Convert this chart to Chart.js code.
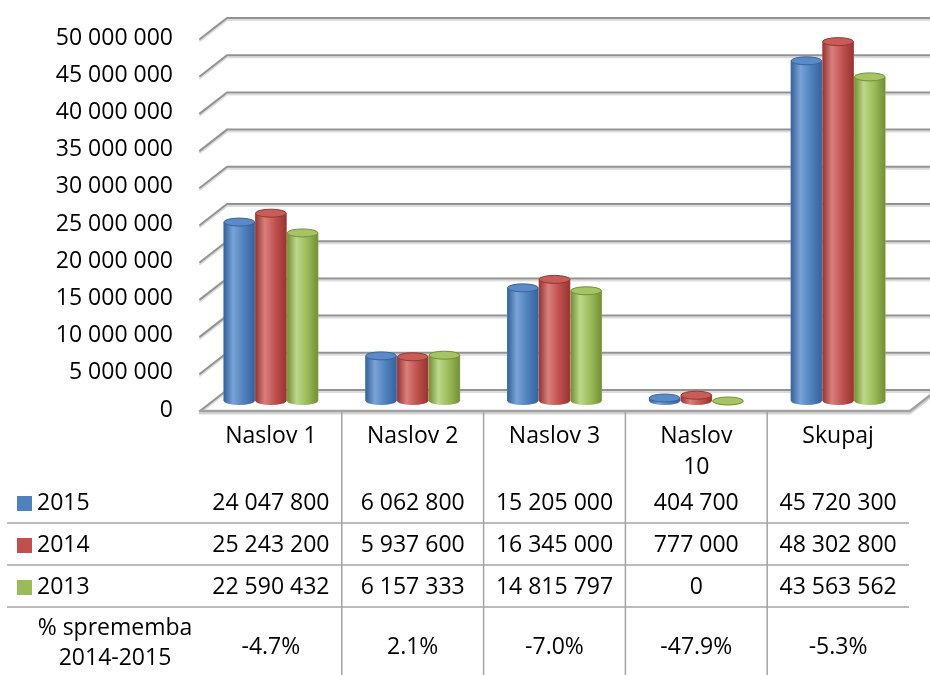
<!DOCTYPE html>
<html>
<head>
<meta charset="utf-8">
<script src="https://cdn.jsdelivr.net/npm/chart.js@4/dist/chart.umd.min.js"></script>
<style>
  html, body { margin: 0; padding: 0; background: #fff; }
  #wrap { width: 930px; height: 675px; }
</style>
</head>
<body>
<div id="wrap"><canvas id="chart" width="930" height="675"></canvas></div>
<script>
// chart data
const categories = ["Naslov 1", "Naslov 2", "Naslov 3", ["Naslov", "10"], "Skupaj"];
const years = ["2015", "2014", "2013"];
const values2015 = [24047800, 6062800, 15205000, 404700, 45720300];
const values2014 = [25243200, 5937600, 16345000, 777000, 48302800];
const values2013 = [22590432, 6157333, 14815797, 0, 43563562];
const changeLabel = ["% sprememba", "2014-2015"];
const yTicks = { min: 0, max: 50000000, step: 5000000 };

const colors = ["#4f81bd", "#c0504d", "#9bbb59"];
const shades = [
    { dark: "#36639b", light: "#7aa3d8", cap: "#5a8bc6" },
    { dark: "#963531", light: "#d8807d", cap: "#c85c59" },
    { dark: "#728f35", light: "#bcd88a", cap: "#a6c466" }
];
const FONT = '"Open Sans", "DejaVu Sans", sans-serif';

function fmt(n) {
    return String(n).replace(/\B(?=(\d{3})+(?!\d))/g, " ");
}

// back wall + floor, drawn from the y scale
const wall3d = {
    id: "wall3d",
    beforeDatasetsDraw(chart) {
        const { ctx, chartArea: a, scales: { y } } = chart;
        const dx = 27, front = 10, back = -11;
        ctx.save();
        ctx.lineCap = "round";
        y.ticks.forEach(t => {
            const py = y.getPixelForValue(t.value);
            ctx.strokeStyle = "#dcdcdc";
            ctx.lineWidth = 2;
            ctx.beginPath();
            ctx.moveTo(a.left, py + front + 2);
            ctx.lineTo(a.left + dx, py + back + 2);
            ctx.lineTo(chart.width + 5, py + back + 2);
            ctx.stroke();
            ctx.strokeStyle = "#929292";
            ctx.lineWidth = 2;
            ctx.beginPath();
            ctx.moveTo(a.left, py + front);
            ctx.lineTo(a.left + dx, py + back);
            ctx.lineTo(chart.width + 5, py + back);
            ctx.stroke();
        });
        // floor front edge
        const p0 = y.getPixelForValue(0);
        ctx.strokeStyle = "#d6d6d6";
        ctx.lineWidth = 3;
        ctx.beginPath();
        ctx.moveTo(a.left, p0 + front + 2);
        ctx.lineTo(a.right + 1, p0 + front + 2);
        ctx.lineTo(a.right + 1 + dx, p0 + back + 2);
        ctx.stroke();
        ctx.strokeStyle = "#a2a2a2";
        ctx.lineWidth = 2.5;
        ctx.beginPath();
        ctx.moveTo(a.left, p0 + front);
        ctx.lineTo(a.right + 1, p0 + front);
        ctx.lineTo(a.right + 1 + dx, p0 + back);
        ctx.stroke();
        ctx.restore();
    }
};

// turn each bar into a cylinder
const cylinders = {
    id: "cylinders",
    afterDatasetsDraw(chart) {
        const ctx = chart.ctx;
        ctx.save();
        chart.data.datasets.forEach((ds, di) => {
            const meta = chart.getDatasetMeta(di);
            const sh = shades[di];
            meta.data.forEach(bar => {
                const { x, y, base, width } = bar.getProps(["x", "y", "base", "width"], true);
                const rx = width / 2 - 0.5, ry = 4;
                const g = ctx.createLinearGradient(x - rx, 0, x + rx, 0);
                g.addColorStop(0, sh.dark);
                g.addColorStop(0.3, sh.light);
                g.addColorStop(0.65, colors[di]);
                g.addColorStop(1, sh.dark);
                ctx.fillStyle = g;
                ctx.beginPath();
                ctx.moveTo(x - rx, y);
                ctx.lineTo(x - rx, base);
                ctx.ellipse(x, base, rx, ry, 0, Math.PI, 0, true);
                ctx.lineTo(x + rx, y);
                ctx.closePath();
                ctx.fill();
                ctx.fillStyle = sh.cap;
                ctx.strokeStyle = sh.dark;
                ctx.lineWidth = 1;
                ctx.beginPath();
                ctx.ellipse(x, y, rx, ry, 0, 0, Math.PI * 2);
                ctx.fill();
                ctx.stroke();
            });
        });
        ctx.restore();
    }
};

// data table under the axis
const dataTable = {
    id: "dataTable",
    afterDraw(chart) {
        const { ctx, scales: { x } } = chart;
        const rows = [values2015, values2014, values2013];
        const rowY = [503, 545, 587];
        const n = categories.length;
        const half = (x.getPixelForValue(1) - x.getPixelForValue(0)) / 2;
        const right = x.getPixelForValue(n - 1) + half;
        ctx.save();
        ctx.strokeStyle = "#a4a4a4";
        ctx.lineWidth = 1.5;
        for (let i = 0; i < n - 1; i++) {
            const bx = x.getPixelForValue(i) + half;
            ctx.beginPath();
            ctx.moveTo(bx, 412);
            ctx.lineTo(bx, 675);
            ctx.stroke();
        }
        [523, 565, 607].forEach(ly => {
            ctx.beginPath();
            ctx.moveTo(7, ly);
            ctx.lineTo(right, ly);
            ctx.stroke();
        });
        ctx.font = "23px " + FONT;
        ctx.textBaseline = "middle";
        rows.forEach((vals, r) => {
            ctx.fillStyle = colors[r];
            ctx.fillRect(17, rowY[r] - 7, 15, 15);
            ctx.fillStyle = "#000";
            ctx.textAlign = "left";
            ctx.fillText(years[r], 37, rowY[r]);
            ctx.textAlign = "center";
            vals.forEach((v, i) => ctx.fillText(fmt(v), x.getPixelForValue(i), rowY[r]));
        });
        ctx.textAlign = "center";
        ctx.fillText(changeLabel[0], 115, 628);
        ctx.fillText(changeLabel[1], 115, 658);
        values2015.forEach((v, i) => {
            const pct = ((v - values2014[i]) / values2014[i] * 100).toFixed(1) + "%";
            ctx.fillText(pct, x.getPixelForValue(i), 647);
        });
        ctx.restore();
    }
};

const ctx = document.getElementById("chart").getContext("2d");
new Chart(ctx, {
    type: "bar",
    data: {
        labels: categories,
        datasets: [
            { label: years[0], data: values2015, backgroundColor: colors[0] },
            { label: years[1], data: values2014, backgroundColor: colors[1] },
            { label: years[2], data: values2013, backgroundColor: colors[2] }
        ]
    },
    options: {
        responsive: false,
        animation: false,
        devicePixelRatio: 1,
        layout: { padding: { top: 29, right: 21, left: 0, bottom: 0 } },
        datasets: { bar: { barPercentage: 1.0, categoryPercentage: 0.67, borderWidth: 0 } },
        plugins: { legend: { display: false }, tooltip: { enabled: false } },
        scales: {
            x: {
                grid: { display: false, drawTicks: false },
                border: { display: false },
                ticks: {
                    font: { family: FONT, size: 23, lineHeight: 1.35 },
                    color: "#000",
                    padding: 20,
                    maxRotation: 0,
                    autoSkip: false
                },
                afterFit(s) { s.height = 274; }
            },
            y: {
                min: yTicks.min,
                max: yTicks.max,
                grid: { display: false, drawTicks: false },
                border: { display: false },
                ticks: {
                    stepSize: yTicks.step,
                    font: { family: FONT, size: 23 },
                    color: "#000",
                    padding: 27,
                    labelOffset: 9,
                    callback: v => fmt(v)
                },
                afterFit(s) {
                    s.width = 200;
                    s.paddingTop = 0;
                    s.paddingBottom = 0;
                }
            }
        }
    },
    plugins: [wall3d, cylinders, dataTable]
});
</script>
</body>
</html>
